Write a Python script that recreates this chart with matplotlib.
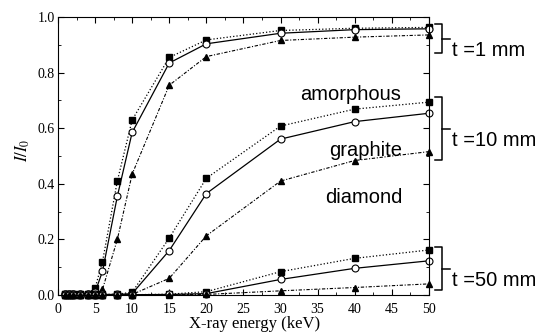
import matplotlib.pyplot as plt
from matplotlib.ticker import MultipleLocator, FormatStrFormatter

plt.rcParams['mathtext.fontset'] = 'stix'

energy = [1, 1.5, 2, 3, 4, 5, 6, 8, 10, 15, 20, 30, 40, 50]

# t = 1 mm
amor_1 = [0.005, 0.005, 0.005, 0.005, 0.005, 0.025, 0.12, 0.41, 0.63, 0.855, 0.918, 0.952, 0.96, 0.963]
graph_1 = [0.004, 0.004, 0.004, 0.004, 0.004, 0.01, 0.085, 0.355, 0.585, 0.835, 0.904, 0.942, 0.955, 0.958]
diam_1 = [0.003, 0.003, 0.003, 0.003, 0.003, 0.005, 0.02, 0.2, 0.435, 0.755, 0.858, 0.916, 0.928, 0.936]

# t = 10 mm
amor_10 = [0.002, 0.002, 0.002, 0.002, 0.002, 0.002, 0.002, 0.003, 0.01, 0.205, 0.42, 0.608, 0.669, 0.694]
graph_10 = [0.002, 0.002, 0.002, 0.002, 0.002, 0.002, 0.002, 0.002, 0.005, 0.16, 0.365, 0.561, 0.624, 0.654]
diam_10 = [0.001, 0.001, 0.001, 0.001, 0.001, 0.001, 0.001, 0.001, 0.002, 0.06, 0.213, 0.41, 0.484, 0.516]

# t = 50 mm
amor_50 = [0.001, 0.001, 0.001, 0.001, 0.001, 0.001, 0.001, 0.001, 0.001, 0.003, 0.012, 0.084, 0.132, 0.162]
graph_50 = [0.001, 0.001, 0.001, 0.001, 0.001, 0.001, 0.001, 0.001, 0.001, 0.002, 0.005, 0.056, 0.096, 0.123]
diam_50 = [0.0, 0.0, 0.0, 0.0, 0.0, 0.0, 0.0, 0.0, 0.0, 0.001, 0.002, 0.015, 0.027, 0.04]

fig = plt.figure(figsize=(5.47, 3.36), dpi=100)
ax = fig.add_axes([0.106, 0.122, 0.678, 0.827])

sq = dict(color='black', ls=':', lw=0.9, marker='s', ms=4.5, mfc='black', mec='black', clip_on=False)
ci = dict(color='black', ls='-', lw=0.9, marker='o', ms=5, mfc='white', mec='black', mew=0.8, clip_on=False)
tr = dict(color='black', ls=(0, (3, 1.5, 1, 1.5)), lw=0.8, marker='^', ms=5, mfc='black', mec='black', clip_on=False)

for a, g, d in [(amor_1, graph_1, diam_1), (amor_10, graph_10, diam_10), (amor_50, graph_50, diam_50)]:
    ax.plot(energy, a, **sq)
    ax.plot(energy, g, **ci)
    ax.plot(energy, d, **tr)

ax.set_xlim(0, 50)
ax.set_ylim(0, 1.0)
ax.xaxis.set_major_locator(MultipleLocator(5))
ax.xaxis.set_minor_locator(MultipleLocator(2.5))
ax.yaxis.set_major_locator(MultipleLocator(0.2))
ax.yaxis.set_minor_locator(MultipleLocator(0.1))
ax.xaxis.set_major_formatter(FormatStrFormatter('%d'))
ax.yaxis.set_major_formatter(FormatStrFormatter('%.1f'))
ax.tick_params(which='both', direction='in', top=True, right=True, labelsize=10)
ax.tick_params(axis='x', pad=6)
ax.tick_params(axis='y', pad=2.5)
ax.tick_params(which='major', length=4)
ax.tick_params(which='minor', length=2)
for lab in ax.get_xticklabels() + ax.get_yticklabels():
    lab.set_fontfamily('Liberation Serif')

ax.set_xlabel('X-ray energy (keV)', family='Liberation Serif', fontsize=12, labelpad=0, x=0.53)
ax.set_ylabel(r'$I/I_0$', fontsize=12, labelpad=4, y=0.52)

sans = 'Liberation Sans'
ax.text(39.4, 0.72, 'amorphous', family=sans, fontsize=14.5, ha='center', va='center')
ax.text(41.5, 0.52, 'graphite', family=sans, fontsize=14.5, ha='center', va='center')
ax.text(41.2, 0.35, 'diamond', family=sans, fontsize=14.5, ha='center', va='center')

W, H = 547, 336


def bracket(top, bot, label):
    x0, x1, x2 = 435 / W, 442 / W, 450 / W
    yt, yb = 1 - top / H, 1 - bot / H
    ym = (yt + yb) / 2
    kw = dict(color='black', lw=1.1, transform=fig.transFigure, clip_on=False)
    fig.add_artist(plt.Line2D([x0, x1, x1, x0], [yt, yt, yb, yb], **kw))
    fig.add_artist(plt.Line2D([x1, x2], [ym, ym], **kw))
    fig.text(x2 + 2 / W, ym - 12 / H, label, family=sans, fontsize=14.5, ha='left', va='center')


bracket(24, 53, 't =1 mm')
bracket(97, 160, 't =10 mm')
bracket(247, 290, 't =50 mm')

fig.savefig('out.png', dpi=100)
